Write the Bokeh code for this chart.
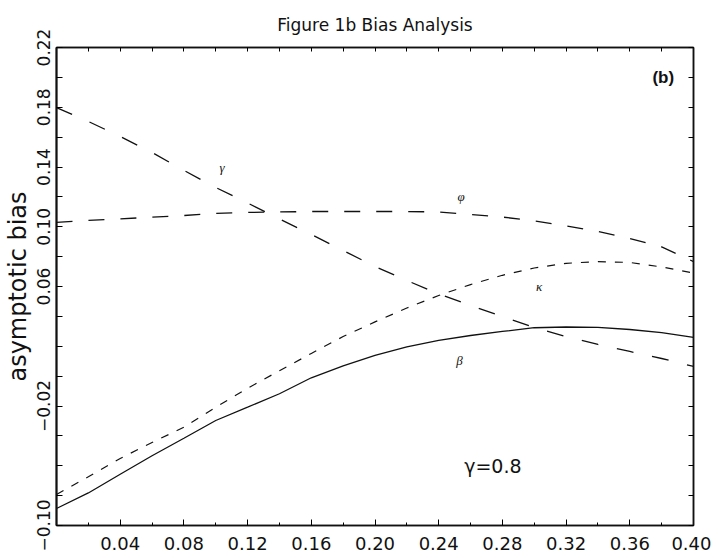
from bokeh.plotting import figure
from bokeh.models import LinearAxis, FixedTicker, Range1d, Label, Title
from bokeh.embed import file_html
from bokeh.resources import INLINE

# ---- data ----
x = [0.00, 0.02, 0.04, 0.06, 0.08, 0.10, 0.12, 0.14, 0.16, 0.18, 0.20,
     0.22, 0.24, 0.26, 0.28, 0.30, 0.32, 0.34, 0.36, 0.38, 0.40]
gamma_bias = [0.1798, 0.1705, 0.1604, 0.1497, 0.1377, 0.1263, 0.1159, 0.1052,
              0.0948, 0.0841, 0.0734, 0.0640, 0.0550, 0.0473, 0.0399, 0.0326,
              0.0265, 0.0212, 0.0165, 0.0118, 0.0065]
phi_bias = [0.1029, 0.1042, 0.1052, 0.1065, 0.1075, 0.1089, 0.1096, 0.1099,
            0.1102, 0.1102, 0.1102, 0.1102, 0.1099, 0.1082, 0.1065, 0.1039,
            0.1005, 0.0968, 0.0921, 0.0865, 0.0767]
kappa_bias = [-0.0792, -0.0674, -0.0551, -0.0444, -0.0342, -0.0208, -0.0081,
              0.0036, 0.0152, 0.0265, 0.0363, 0.0456, 0.0540, 0.0613, 0.0675,
              0.0724, 0.0755, 0.0767, 0.0761, 0.0731, 0.0690]
beta_bias = [-0.0886, -0.0782, -0.0657, -0.0533, -0.0416, -0.0297, -0.0208,
             -0.0118, -0.0011, 0.0069, 0.0139, 0.0196, 0.0240, 0.0272, 0.0299,
             0.0324, 0.0329, 0.0326, 0.0312, 0.0291, 0.0259]

x_ticks = [0.04, 0.08, 0.12, 0.16, 0.20, 0.24, 0.28, 0.32, 0.36, 0.40]
x_minor = [0.02, 0.06, 0.10, 0.14, 0.18, 0.22, 0.26, 0.30, 0.34, 0.38]
x_tick_labels = ["0.04", "0.08", "0.12", "0.16", "0.20", "0.24", "0.28", "0.32", "0.36", "0.40"]
y_ticks = [-0.10, -0.02, 0.06, 0.10, 0.14, 0.18, 0.22]
y_tick_labels = ["\u22120.10", "\u22120.02", "0.06", "0.10", "0.14", "0.18", "0.22"]
y_minor = [-0.08, -0.06, -0.04, 0.00, 0.02, 0.04, 0.08, 0.12, 0.16, 0.20]

curve_labels = ["\u03b3", "\u03c6", "\u03ba", "\u03b2"]
curve_label_x = [0.104, 0.254, 0.303, 0.253]
curve_label_y = [0.140, 0.120, 0.060, 0.0105]

FONT = "DejaVu Sans"
INK = "#111111"

p = figure(width=711, height=556, output_backend="svg", toolbar_location=None,
           x_range=Range1d(0.0, 0.40), y_range=Range1d(-0.10, 0.22),
           min_border_left=55, min_border_right=18, min_border_top=0,
           min_border_bottom=31)

p.background_fill_color = "white"
p.border_fill_color = "white"
p.grid.visible = False
p.outline_line_color = INK
p.outline_line_width = 1.5

# bottom axis
xa = p.xaxis[0]
xa.ticker = FixedTicker(ticks=x_ticks, minor_ticks=x_minor)
xa.major_label_overrides = {t: s for t, s in zip(x_ticks, x_tick_labels)}
xa.major_tick_in = 6
xa.major_tick_out = 0
xa.minor_tick_in = 3
xa.minor_tick_out = 0
xa.axis_line_color = INK
xa.axis_line_width = 1.5
xa.major_label_text_font = FONT
xa.major_label_text_font_size = "18px"
xa.major_label_text_color = INK
xa.major_label_standoff = 11

# left axis
ya = p.yaxis[0]
ya.ticker = FixedTicker(ticks=y_ticks, minor_ticks=y_minor)
ya.major_label_overrides = {t: s for t, s in zip(y_ticks, y_tick_labels)}
ya.major_label_orientation = "vertical"
ya.major_tick_in = 6
ya.major_tick_out = 0
ya.minor_tick_in = 6
ya.minor_tick_out = 0
ya.axis_line_color = INK
ya.axis_line_width = 2
ya.major_label_text_font = FONT
ya.major_label_text_font_size = "17px"
ya.major_label_text_color = INK
ya.major_label_standoff = 7
ya.axis_label = "asymptotic bias"
ya.axis_label_text_font = FONT
ya.axis_label_text_font_size = "24px"
ya.axis_label_text_font_style = "normal"
ya.axis_label_text_color = INK
ya.axis_label_standoff = 2

# mirrored tick axes (top and right), no labels
top = LinearAxis(ticker=FixedTicker(ticks=[], minor_ticks=x_ticks + x_minor),
                 minor_tick_in=4, minor_tick_out=0, axis_line_color=INK,
                 axis_line_width=1.5)
right = LinearAxis(ticker=FixedTicker(ticks=[], minor_ticks=y_ticks + y_minor),
                   minor_tick_in=5, minor_tick_out=0, axis_line_color=INK,
                   axis_line_width=1.5)
p.add_layout(top, "above")
p.add_layout(right, "right")

title = Title(text="Figure 1b Bias Analysis", align="center", text_font=FONT,
              text_font_size="17px", text_font_style="normal", text_color=INK,
              standoff=25)
p.add_layout(title, "above")

# curves
p.line(x, gamma_bias, line_color=INK, line_width=1.3, line_dash="17 19")
p.line(x, phi_bias, line_color=INK, line_width=1.3, line_dash="16 16")
p.line(x, kappa_bias, line_color=INK, line_width=1.2, line_dash="8 9")
p.line(x, beta_bias, line_color=INK, line_width=1.3)

p.text(curve_label_x, curve_label_y, text=curve_labels, text_font=FONT,
       text_font_size="13px", text_font_style="italic", text_color=INK,
       text_align="center", text_baseline="middle")

p.add_layout(Label(x=0.274, y=-0.060, text="\u03b3=0.8", text_font=FONT,
                   text_font_size="19px", text_color=INK, text_align="center",
                   text_baseline="middle"))
p.add_layout(Label(x=0.381, y=0.200, text="(b)", text_font="Liberation Sans",
                   text_font_size="17px", text_font_style="bold", text_color=INK,
                   text_align="center", text_baseline="middle"))

open("out.html", "w").write(file_html(p, INLINE))
